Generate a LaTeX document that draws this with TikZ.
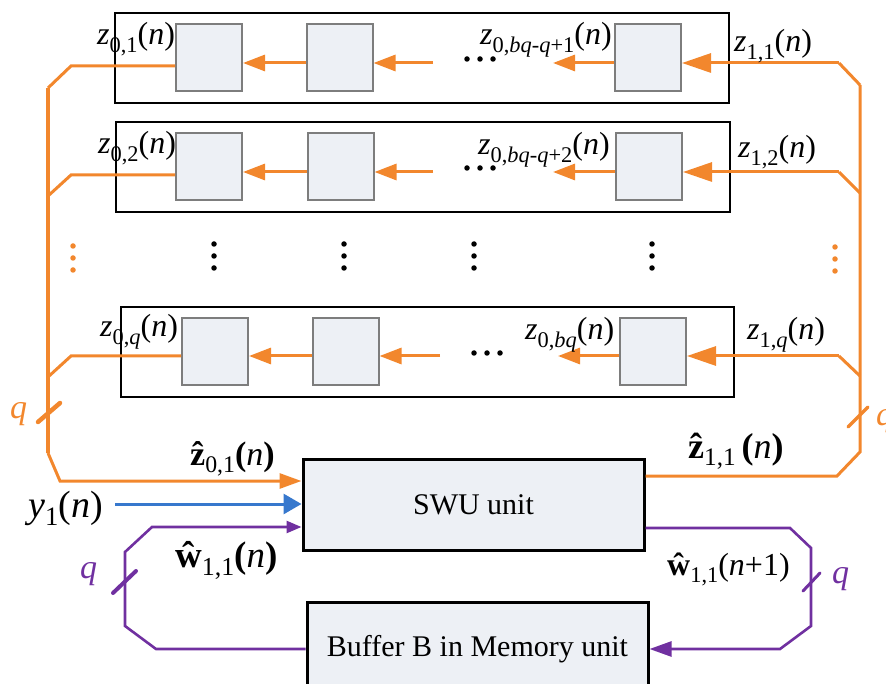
\documentclass[tikz,border=0pt]{standalone}
\usepackage{graphicx}
\usepackage{fontspec}
\setmainfont{Liberation Serif}
\usetikzlibrary{arrows.meta,calc}
\definecolor{org}{RGB}{242,135,45}
\definecolor{blu}{RGB}{55,120,205}
\definecolor{pur}{RGB}{112,48,160}
\definecolor{cellfill}{RGB}{237,240,245}
\definecolor{cellgray}{RGB}{125,125,125}
\newcommand\sbs[1]{\raisebox{-0.22em}{\scalebox{0.7}{#1}}}
\newcommand\hatbold[1]{\setbox0\hbox{\bfseries #1}\hbox to\wd0{\hss\bfseries\char"02C6\hss}\kern-\wd0\box0}
\begin{document}
\begin{tikzpicture}[x=1pt,y=-1pt,
  font=\fontsize{30}{36}\selectfont,
  cell/.style={draw=cellgray, line width=2pt, fill=cellfill, minimum width=66pt, minimum height=67pt, inner sep=0pt},
  frame/.style={draw=black, line width=1.3pt, minimum height=90pt, inner sep=0pt},
  unitbox/.style={draw=black, line width=3pt, fill=cellfill, inner sep=0pt},
  ow/.style={draw=org, line width=3pt},
  oarr/.style={ow, -{Triangle[length=22pt,width=16pt]}},
  oarrbig/.style={ow, -{Triangle[length=29pt,width=19pt]}},
  pw/.style={draw=pur, line width=2.6pt},
  lab/.style={anchor=base west, inner sep=0pt},
  fs/.style={font=\fontsize{#1}{#1}\selectfont},
  bdot/.style={circle, fill=black, inner sep=0pt, minimum size=5.5pt},
  odot/.style={circle, fill=org, inner sep=0pt, minimum size=5.5pt}]
\useasboundingbox (0,0) rectangle (886,684);

% frames
\node[frame, minimum width=614pt] (f1) at (422,58) {};
\node[frame, minimum width=614pt] (f2) at (423,167) {};
\node[frame, minimum width=613pt] (f3) at (427.5,352) {};

% cells
\node[cell] (b11) at (209,57.5) {};
\node[cell] (b12) at (339.5,57.5) {};
\node[cell] (b14) at (648,57.5) {};
\node[cell] (b21) at (209,166.5) {};
\node[cell] (b22) at (340.5,166.5) {};
\node[cell] (b24) at (649,166.5) {};
\node[cell] (b31) at (215,351.5) {};
\node[cell] (b32) at (345.5,351.5) {};
\node[cell] (b34) at (653,351.5) {};

% units
\node[unitbox, minimum width=341pt, minimum height=91pt] (swu) at (473.5,504.5) {SWU unit};
\node[unitbox, minimum width=341pt, minimum height=94pt] (buf) at (477.5,649) {Buffer B in Memory unit};

% coordinates
\coordinate (r1m) at (433,63);  \coordinate (r1t) at (553,63);
\coordinate (r2m) at (433,172); \coordinate (r2t) at (553,172);
\coordinate (r3m) at (440,356); \coordinate (r3t) at (558,356);
\coordinate (rk1) at (839,63);  \coordinate (rj1) at (860,85);
\coordinate (rk2) at (839,172); \coordinate (rj2) at (860,193);
\coordinate (rk3) at (839,356); \coordinate (rj3) at (860,376);
\coordinate (lk1) at (71,66);   \coordinate (lj1) at (48,88);
\coordinate (lk2) at (71,175);  \coordinate (lj2) at (48,196);
\coordinate (lk3) at (71,356);  \coordinate (lj3) at (48,377);
\coordinate (lb) at (48,453);   \coordinate (lc) at (60,481);
\coordinate (rb) at (860,452);  \coordinate (rc) at (837,476);
\coordinate (yin) at (115,504);
\coordinate (pl1) at (156,649); \coordinate (pl2) at (125,626);
\coordinate (pl3) at (125,552); \coordinate (pl4) at (152,527);
\coordinate (pr1) at (790,528); \coordinate (pr2) at (811,548);
\coordinate (pr3) at (811,626); \coordinate (pr4) at (780,649);

% row 1
\draw[oarr] (b12.west |- 0,63) -- (b11.east |- 0,63);
\draw[oarr] (r1m) -- (b12.east |- 0,63);
\draw[oarr] (b14.west |- 0,63) -- (r1t);
\draw[oarrbig] (rk1) -- (b14.east |- 0,63);
\draw[ow] (rj1) -- (rk1);
\draw[ow] (b11.west |- 0,66) -- (lk1) -- (lj1);
% row 2
\draw[oarr] (b22.west |- 0,172) -- (b21.east |- 0,172);
\draw[oarr] (r2m) -- (b22.east |- 0,172);
\draw[oarr] (b24.west |- 0,172) -- (r2t);
\draw[oarrbig] (rk2) -- (b24.east |- 0,172);
\draw[ow] (rj2) -- (rk2);
\draw[ow] (b21.west |- 0,175) -- (lk2) -- (lj2);
% row 3
\draw[oarr] (b32.west |- 0,356) -- (b31.east |- 0,356);
\draw[oarr] (r3m) -- (b32.east |- 0,356);
\draw[oarr] (b34.west |- 0,356) -- (r3t);
\draw[oarrbig] (rk3) -- (b34.east |- 0,356);
\draw[ow] (rj3) -- (rk3);
\draw[ow] (b31.west |- 0,356) -- (lk3) -- (lj3);

% buses
\draw[org, line width=4.5pt] (lj1) -- (lb);
\draw[ow, -{Triangle[length=22pt,width=15pt]}] (lb) -- (lc) -- (lc -| swu.west);
\draw[ow] (swu.east |- rc) -- (rc) -- (rb) -- (rj1);
\draw[org, line width=4.5pt, line cap=round] (38,422) -- (60,403);
\draw[org, line width=3.5pt, line cap=round] (848,427) -- (868,407);

% blue input
\draw[blu, line width=3pt, -{Triangle[length=18pt,width=20pt]}] (yin) -- (yin -| swu.west);

% purple loop
\draw[pw, -{Triangle[length=15pt,width=12pt]}] (buf.west) -- (pl1) -- (pl2) -- (pl3) -- (pl4) -- (pl4 -| swu.west);
\draw[pw, -{Triangle[length=22pt,width=15pt]}] (swu.east |- pr1) -- (pr1) -- (pr2) -- (pr3) -- (pr4) -- (buf.east);
\draw[pur, line width=4pt, line cap=round] (113,593) -- (136,571);
\draw[pur, line width=3pt, line cap=round] (803,591) -- (820,573);

% dots
\foreach \x/\n in {467/a,480/b,493/c} {\node[bdot] (h1\n) at (\x,59) {}; \node[bdot] (h2\n) at (\x,168) {};}
\foreach \x/\n in {474/a,487/b,500/c} {\node[bdot] (h3\n) at (\x,353) {};}
\foreach \y/\n in {244/a,256/b,268/c} {
  \node[bdot] (va\n) at (214,\y) {};
  \node[bdot] (vb\n) at (344,\y) {};
  \node[bdot] (vc\n) at (474,\y) {};
  \node[bdot] (vd\n) at (652,\y) {};
}
\foreach \y/\n in {246/a,258/b,270/c} {\node[odot] (ol\n) at (73,\y) {};}
\foreach \y/\n in {247/a,259/b,271/c} {\node[odot] (or\n) at (835,\y) {};}

% labels
\node[lab, fs=32] (t01) at (97,45) {\textit{z}\sbs{0,1}(\textit{n})};
\node[lab, fs=32] (t02) at (98,154) {\textit{z}\sbs{0,2}(\textit{n})};
\node[lab, fs=32] (t0q) at (100,337) {\textit{z}\sbs{0,\textit{q}}(\textit{n})};
\node[lab, fs=32] (t0a) at (480,45) {\textit{z}\sbs{0,\textit{bq}-\textit{q}+1}(\textit{n})};
\node[lab, fs=32] (t0b) at (478,155) {\textit{z}\sbs{0,\textit{bq}-\textit{q}+2}(\textit{n})};
\node[lab, fs=32] (t0c) at (525,340) {\textit{z}\sbs{0,\textit{bq}}(\textit{n})};
\node[lab, fs=32] (t11) at (734,52) {\textit{z}\sbs{1,1}(\textit{n})};
\node[lab, fs=32] (t12) at (738,158) {\textit{z}\sbs{1,2}(\textit{n})};
\node[lab, fs=32] (t1q) at (747,340) {\textit{z}\sbs{1,\textit{q}}(\textit{n})};
\node[lab, fs=34] (hz0) at (190,465) {\hatbold{z}\sbs{0,1}\textbf{(}\textit{n}\textbf{)}};
\node[lab, fs=36] (hz1) at (688,458) {\hatbold{z}\sbs{1,1}\,\textbf{(}\textit{n}\textbf{)}};
\node[lab, fs=37] (hw0) at (175,567) {\hatbold{w}\sbs{1,1}\textbf{(}\textit{n}\textbf{)}};
\node[lab, fs=32] (hw1) at (667,575) {\hatbold{w}\sbs{1,1}(\textit{n}+1)};
\node[lab, fs=38] (ylab) at (28,517) {\textit{y}\sbs{1}(\textit{n})};
\node[lab, fs=34, text=org] (qol) at (10,418) {\textit{q}};
\node[lab, fs=34, text=org] (qor) at (876,425) {\textit{q}};
\node[lab, fs=34, text=pur] (qpl) at (80,578) {\textit{q}};
\node[lab, fs=34, text=pur] (qpr) at (832,583) {\textit{q}};
\end{tikzpicture}
\end{document}
